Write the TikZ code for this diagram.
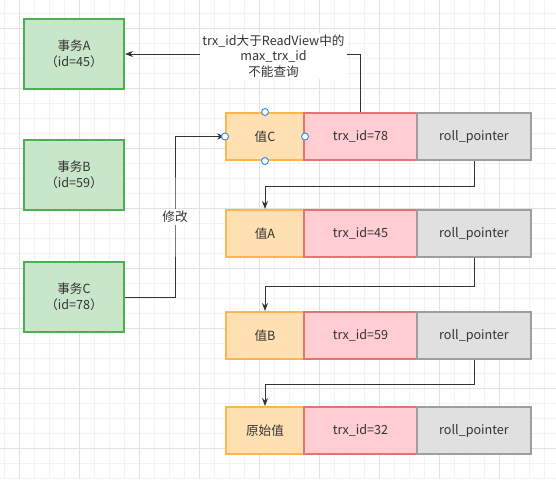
\documentclass[tikz,border=0pt]{standalone}
\usepackage{fontspec}
\newfontfamily\cjk{Noto Sans CJK SC}
\usetikzlibrary{arrows.meta, shapes}

\definecolor{trxfill}{HTML}{C8E6C9}
\definecolor{trxline}{HTML}{4CAF50}
\definecolor{valfill}{HTML}{FFE0B2}
\definecolor{valline}{HTML}{FFB74D}
\definecolor{idfill}{HTML}{FFCDD2}
\definecolor{idline}{HTML}{E57373}
\definecolor{ptrfill}{HTML}{E0E0E0}
\definecolor{ptrline}{HTML}{9E9E9E}
\definecolor{ink}{HTML}{333333}
\definecolor{gridminor}{HTML}{F2F2F2}
\definecolor{gridmajor}{HTML}{E2E2E2}
\definecolor{handle}{HTML}{3D8EF0}

\tikzset{
  trx/.style={rectangle, draw=trxline, fill=trxfill, line width=2pt,
              minimum width=100pt, minimum height=70pt, align=center},
  val/.style={rectangle, draw=valline, fill=valfill, line width=2pt,
              minimum width=78pt, minimum height=47pt},
  txid/.style={rectangle, draw=idline, fill=idfill, line width=2pt,
               minimum width=113pt, minimum height=47pt},
  ptr/.style={rectangle, draw=ptrline, fill=ptrfill, line width=2pt,
              minimum width=114pt, minimum height=47pt},
  link/.style={draw=ink, line width=1pt, -{Stealth[length=8pt, width=6pt]}},
  note/.style={fill=white, align=center, inner sep=2pt},
  grip/.style={circle, draw=handle, fill=white, line width=1pt,
               minimum size=7pt, inner sep=0pt}
}

\begin{document}
\begin{tikzpicture}[x=1pt, y=-1pt, every node/.style={font=\cjk\fontsize{12.6}{15.5}\selectfont, text=ink}]
\useasboundingbox (0,0) rectangle (556,479);
\fill[white] (0,0) rectangle (556,479);

% background grid
\foreach \x in {4,19,...,556} \draw[gridminor, line width=1pt] (\x,0) -- (\x,479);
\foreach \y in {13,28,...,479} \draw[gridminor, line width=1pt] (0,\y) -- (556,\y);
\foreach \x in {19,79,...,556} \draw[gridmajor, line width=1pt] (\x,0) -- (\x,479);
\foreach \y in {28,88,...,479} \draw[gridmajor, line width=1pt] (0,\y) -- (556,\y);

% transactions
\node[trx] (TA) at (74,54)  {事务A\\（id=45）};
\node[trx] (TB) at (74,175) {事务B\\（id=59）};
\node[trx] (TC) at (74,297) {事务C\\（id=78）};

% version chain
\node[val]  (V1) at (265,136.5)   {值C};
\node[txid] (I1) at (360.5,136.5) {trx\_id=78};
\node[ptr]  (P1) at (474,136.5)   {roll\_pointer};

\node[val]  (V2) at (265,233.5)   {值A};
\node[txid] (I2) at (360.5,233.5) {trx\_id=45};
\node[ptr]  (P2) at (474,233.5)   {roll\_pointer};

\node[val]  (V3) at (265,335.5)   {值B};
\node[txid] (I3) at (360.5,335.5) {trx\_id=59};
\node[ptr]  (P3) at (474,335.5)   {roll\_pointer};

\node[val]  (V4) at (265,430.5)   {原始值};
\node[txid] (I4) at (360.5,430.5) {trx\_id=32};
\node[ptr]  (P4) at (474,430.5)   {roll\_pointer};

% undo log pointers
\draw[link] (P1.south) -- ++(0,25) -| (V2.north);
\draw[link] (P2.south) -- ++(0,28) -| (V3.north);
\draw[link] (P3.south) -- ++(0,24) -| (V4.north);

% visibility check
\draw[link] (I1.north) |- (TA.east);
\node[note] (chk) at (273.5,56) {trx\_id大于ReadView中的\\max\_trx\_id\\不能查询};

% update by C
\coordinate (K) at (175,217);
\draw[link] (TC.east) -| (K) |- (V1.west);
\node[note] (upd) at (K) {修改};

% selection handles
\node[grip] (G1) at (V1.north) {};
\node[grip] (G2) at (V1.south) {};
\node[grip] (G3) at (V1.west)  {};
\node[grip] (G4) at (V1.east)  {};
\end{tikzpicture}
\end{document}
